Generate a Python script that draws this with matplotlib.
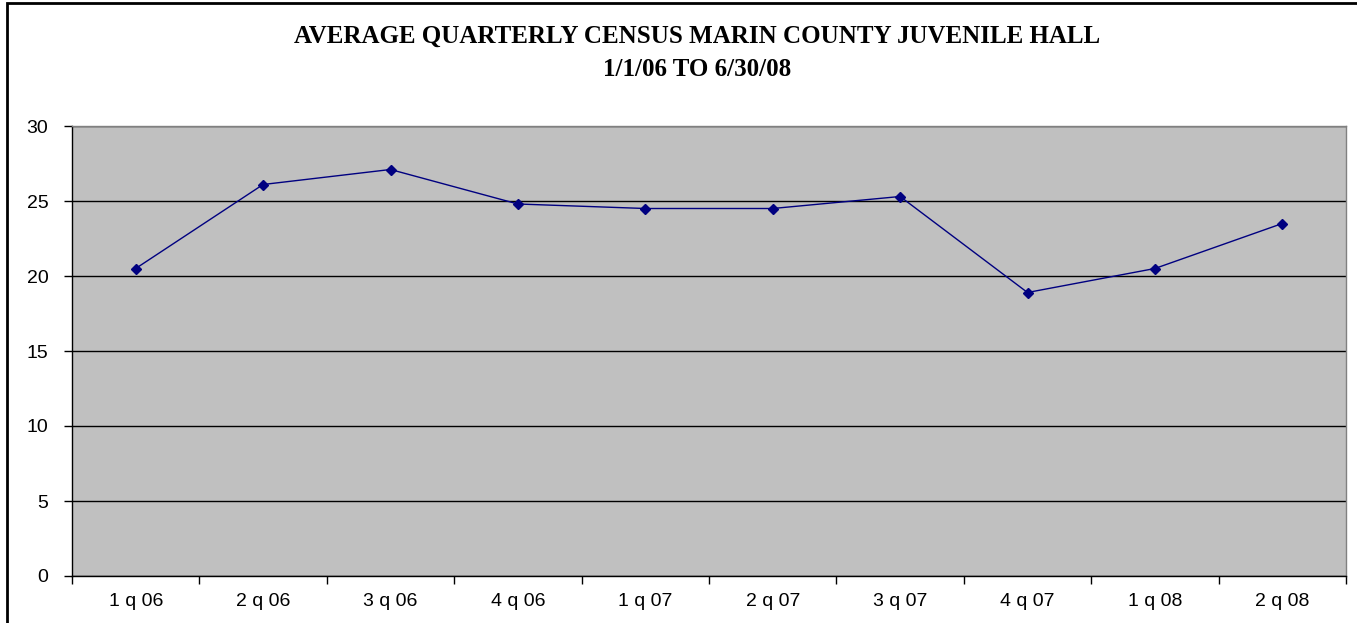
import matplotlib
matplotlib.use("Agg")
import matplotlib.pyplot as plt
from matplotlib.patches import Rectangle
import numpy as np

# данные
quarters = ["1 q 06", "2 q 06", "3 q 06", "4 q 06", "1 q 07",
            "2 q 07", "3 q 07", "4 q 07", "1 q 08", "2 q 08"]
census = [20.5, 26.1, 27.1, 24.8, 24.5, 24.5, 25.3, 18.9, 20.5, 23.5]

plt.rcParams['font.family'] = ['Liberation Sans', 'DejaVu Sans']

fig = plt.figure(figsize=(13.57, 6.23), dpi=100)
ax = fig.add_axes([72 / 1357, 47 / 623, 1274 / 1357, 450 / 623])

# рамка вокруг всей диаграммы
fig.patches.append(Rectangle((7 / 1357, -0.1), 1.2, 1.1 - 3 / 623,
                             transform=fig.transFigure, fill=False,
                             edgecolor='black', lw=2))

x = np.arange(len(quarters))
ax.set_facecolor('#C0C0C0')
ax.plot(x, census, color='#000080', lw=1, marker='D', markersize=5.2)

ax.set_xlim(-0.5, len(quarters) - 0.5)
ax.set_ylim(0, 30)
ax.set_yticks(range(0, 31, 5))
ax.yaxis.grid(True, color='black', lw=1)
ax.set_axisbelow(True)

ax.set_xticks(x)
ax.set_xticklabels(quarters)
ax.set_xticks(np.arange(-0.5, len(quarters)), minor=True)
ax.tick_params(axis='x', which='major', length=0, pad=12, labelsize=14)
ax.tick_params(axis='x', which='minor', length=6, width=1, direction='out')
ax.tick_params(axis='y', length=6, width=1, direction='out', labelsize=14, pad=11)

ax.spines['left'].set_color('black')
ax.spines['bottom'].set_color('black')
ax.spines['top'].set_color('#808080')
ax.spines['right'].set_color('#808080')
for s in ax.spines.values():
    s.set_linewidth(1)

fig.text(697 / 1357, 1 - 36 / 623, "AVERAGE QUARTERLY CENSUS MARIN COUNTY JUVENILE HALL",
         ha='center', va='center', fontsize=18, fontweight='bold',
         family='Liberation Serif')
fig.text(697 / 1357, 1 - 70 / 623, "1/1/06 TO 6/30/08",
         ha='center', va='center', fontsize=18, fontweight='bold',
         family='Liberation Serif')

fig.savefig("out.png", dpi=100)
